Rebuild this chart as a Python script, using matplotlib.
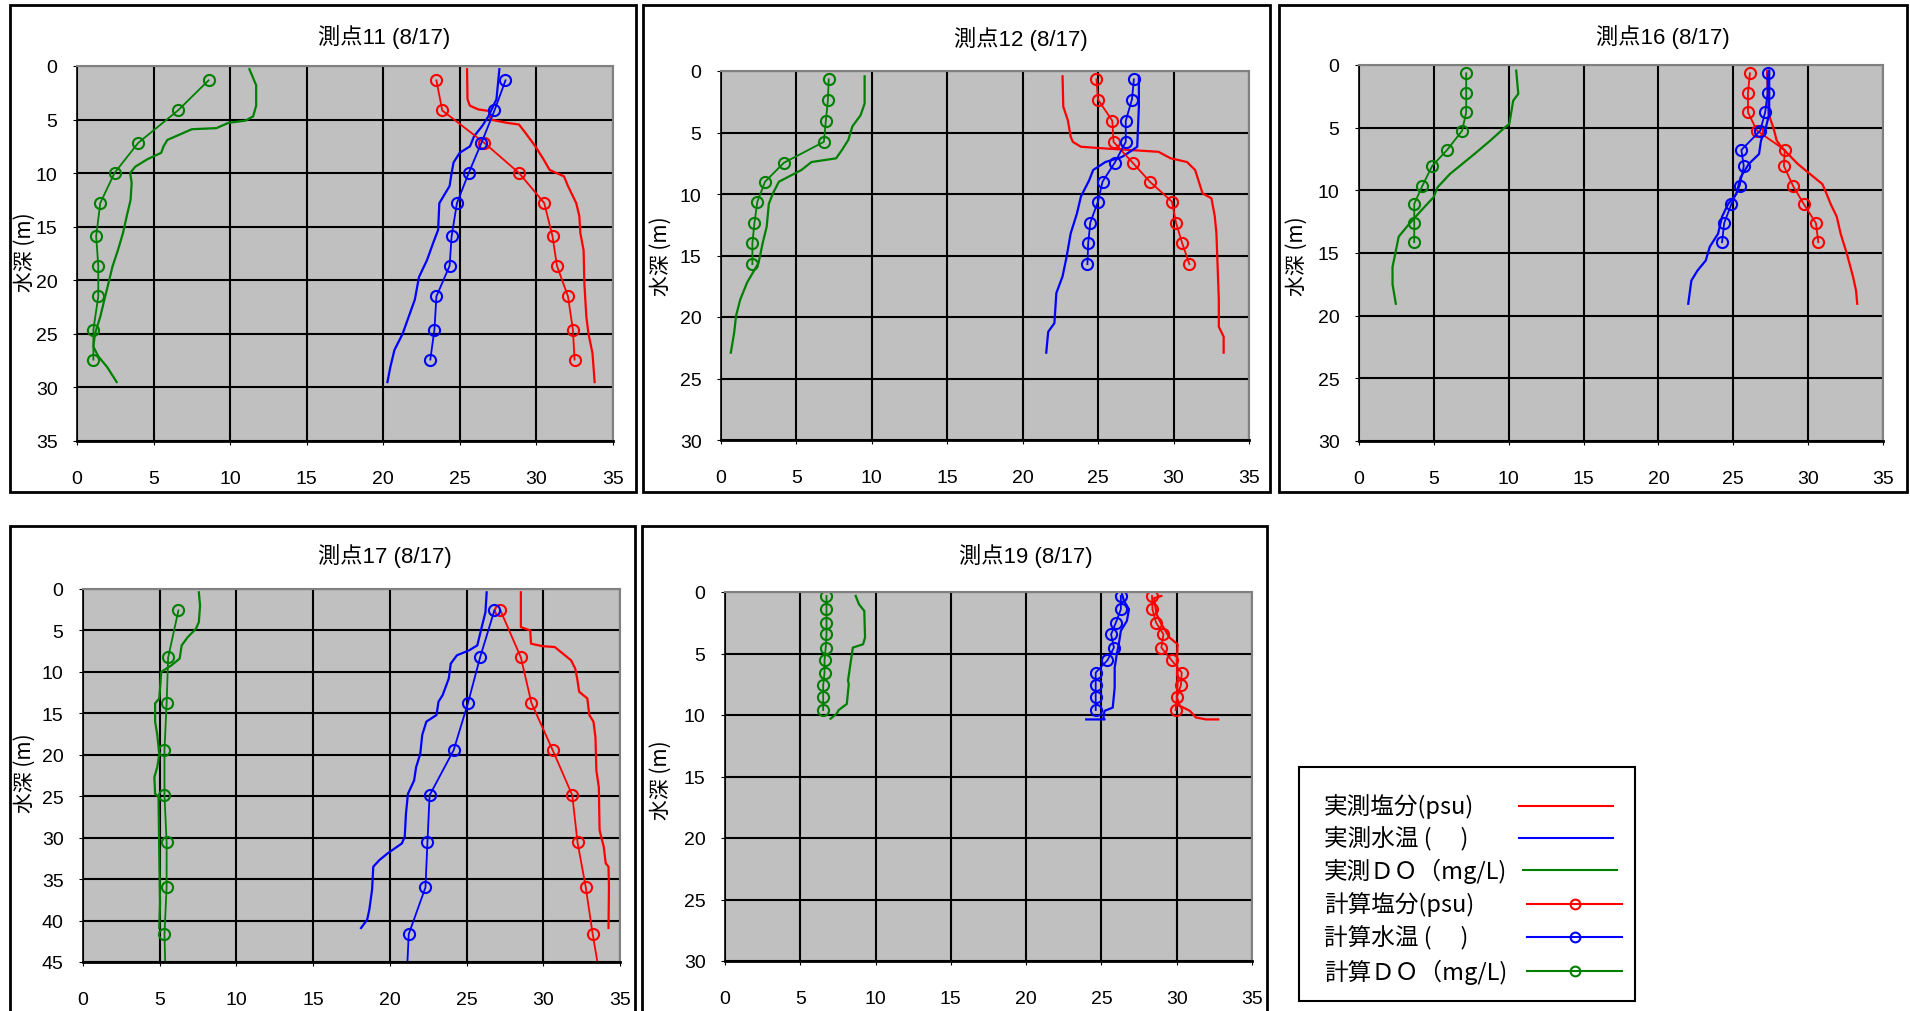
import numpy as np
import matplotlib
matplotlib.use("Agg")
import matplotlib.pyplot as plt
from matplotlib.patches import Rectangle
from matplotlib.lines import Line2D

# ---- 測点11 ----
st11_sal_obs_d = [0.3, 3.1, 3.7, 4.05, 4.2, 5.0, 5.3, 5.46, 6.2, 7.5, 8.7, 9.7, 10.3, 11.2, 12.8, 14.0, 15.6, 17.2, 20.3, 23.4, 25.0, 26.8, 29.5]
st11_sal_obs_v = [25.47, 25.5, 25.65, 26.2, 26.9, 27.0, 28.06, 28.86, 29.26, 29.93, 30.46, 30.86, 31.8, 32.06, 32.6, 32.8, 32.87, 33.08, 33.13, 33.26, 33.4, 33.66, 33.8]
st11_tmp_obs_d = [0.3, 3.1, 4.7, 5.6, 6.55, 7.5, 8.1, 9.0, 10.0, 11.2, 12.8, 15.3, 16.5, 18.1, 19.7, 21.8, 23.4, 25.0, 26.5, 28.1, 29.5]
st11_tmp_obs_v = [27.58, 27.39, 26.86, 26.46, 25.93, 25.66, 24.99, 24.59, 24.46, 24.33, 23.66, 23.58, 23.26, 22.86, 22.33, 22.06, 21.66, 21.26, 20.73, 20.46, 20.27]
st11_do_obs_d = [0.3, 1.8, 3.7, 4.7, 5.1, 5.3, 5.8, 5.9, 6.4, 6.9, 7.5, 8.1, 8.7, 9.4, 10.0, 10.9, 12.5, 14.0, 15.6, 17.2, 18.7, 20.3, 21.8, 23.4, 25.0, 26.2, 27.1, 28.1, 29.5]
st11_do_obs_v = [11.26, 11.7, 11.7, 11.5, 11.0, 9.9, 9.1, 7.5, 6.7, 5.9, 5.65, 5.5, 4.6, 3.8, 3.47, 3.57, 3.5, 3.25, 3.0, 2.67, 2.32, 2.05, 1.79, 1.52, 1.17, 1.07, 1.39, 1.97, 2.59]
st11_calc_d = [1.34, 4.15, 7.17, 9.98, 12.79, 15.9, 18.65, 21.5, 24.6, 27.4]
st11_calc_sal = [23.47, 23.85, 26.59, 28.86, 30.51, 31.05, 31.34, 32.06, 32.38, 32.49]
st11_calc_tmp = [27.98, 27.26, 26.41, 25.58, 24.81, 24.46, 24.33, 23.47, 23.34, 23.07]
st11_calc_do = [8.59, 6.59, 4.0, 2.45, 1.52, 1.25, 1.39, 1.39, 1.07, 1.07]

# ---- 測点12 ----
st12_sal_obs_d = [0.43, 2.9, 4.0, 5.35, 5.76, 6.16, 6.3, 6.4, 6.57, 7.1, 7.4, 8.05, 9.95, 10.35, 11.8, 13.2, 15.9, 18.6, 20.8, 21.6, 22.9]
st12_sal_obs_v = [22.64, 22.69, 22.99, 23.18, 23.32, 23.86, 25.48, 26.83, 29.0, 29.81, 30.89, 31.43, 31.92, 32.51, 32.73, 32.84, 32.92, 33.0, 33.0, 33.32, 33.32]
st12_tmp_obs_d = [0.43, 2.9, 6.16, 6.57, 7.0, 7.4, 8.05, 8.9, 10.2, 11.6, 13.2, 15.1, 16.7, 18.05, 20.5, 21.2, 22.9]
st12_tmp_obs_v = [27.7, 27.7, 27.59, 27.1, 26.56, 25.48, 24.67, 24.4, 23.86, 23.59, 23.18, 22.91, 22.64, 22.23, 22.1, 21.69, 21.56]
st12_do_obs_d = [0.43, 2.65, 3.6, 4.5, 5.6, 6.4, 7.1, 7.4, 8.05, 9.0, 9.95, 10.8, 12.65, 14.0, 15.6, 17.2, 18.6, 19.9, 21.3, 22.9]
st12_do_obs_v = [9.52, 9.52, 9.25, 8.71, 8.44, 8.03, 7.63, 6.0, 5.33, 3.84, 3.44, 3.17, 3.03, 2.76, 2.49, 1.73, 1.27, 1.0, 0.87, 0.65]
st12_calc_d = [0.68, 2.32, 4.05, 5.76, 7.46, 9.0, 10.62, 12.32, 14.0, 15.7]
st12_calc_sal = [24.89, 24.99, 25.94, 26.02, 27.29, 28.43, 29.89, 30.16, 30.57, 31.05]
st12_calc_tmp = [27.37, 27.24, 26.83, 26.83, 26.1, 25.29, 24.99, 24.48, 24.34, 24.29]
st12_calc_do = [7.14, 7.09, 6.95, 6.82, 4.17, 2.92, 2.41, 2.22, 2.08, 2.08]

# ---- 測点16 ----
st16_sal_obs_d = [0.45, 3.9, 4.97, 6.03, 6.56, 7.9, 8.7, 9.5, 10.28, 11.08, 12.1, 13.5, 15.07, 16.9, 18.0, 19.05]
st16_sal_obs_v = [27.26, 27.35, 27.67, 27.9, 28.22, 29.31, 30.13, 30.95, 31.23, 31.5, 31.91, 32.18, 32.59, 33.0, 33.2, 33.28]
st16_tmp_obs_d = [0.45, 3.9, 4.97, 6.03, 7.1, 7.9, 8.96, 10.28, 11.08, 12.1, 13.47, 14.5, 15.6, 16.4, 17.2, 19.05]
st16_tmp_obs_v = [27.4, 27.4, 27.18, 26.85, 26.72, 26.03, 25.49, 25.21, 24.66, 24.25, 23.98, 23.43, 23.16, 22.61, 22.2, 21.99]
st16_do_obs_d = [0.45, 2.3, 2.84, 4.7, 5.1, 6.0, 7.1, 7.9, 8.7, 9.75, 10.55, 11.6, 12.7, 13.7, 15.3, 16.1, 17.5, 19.05]
st16_do_obs_v = [10.5, 10.64, 10.3, 10.04, 9.63, 8.8, 7.71, 6.89, 6.07, 5.25, 4.98, 4.16, 3.34, 2.65, 2.38, 2.24, 2.24, 2.46]
st16_calc_d = [0.66, 2.23, 3.77, 5.24, 6.78, 8.05, 9.62, 11.08, 12.62, 14.14]
st16_calc_sal = [26.11, 25.98, 25.98, 26.58, 28.44, 28.38, 28.98, 29.7, 30.52, 30.68]
st16_calc_tmp = [27.29, 27.29, 27.13, 26.8, 25.54, 25.7, 25.43, 24.88, 24.39, 24.25]
st16_calc_do = [7.16, 7.16, 7.16, 6.89, 5.88, 4.89, 4.24, 3.69, 3.69, 3.69]

# ---- 測点17 ----
st17_sal_obs_d = [0.4, 4.6, 5.0, 6.6, 6.9, 7.0, 7.8, 8.6, 9.6, 10.8, 12.4, 13.2, 15.2, 16.0, 17.9, 21.9, 23.9, 29.1, 31.1, 33.1, 33.5, 35.9, 40.9]
st17_sal_obs_v = [28.54, 28.54, 29.15, 29.2, 29.95, 30.75, 31.28, 31.81, 32.08, 32.21, 32.34, 32.87, 33.0, 33.27, 33.4, 33.46, 33.62, 33.67, 33.94, 34.07, 34.25, 34.28, 34.25]
st17_tmp_obs_d = [0.4, 2.8, 4.8, 6.8, 7.4, 8.0, 9.0, 10.8, 12.8, 13.6, 15.2, 16.0, 17.6, 19.9, 21.5, 23.1, 24.7, 27.1, 29.9, 30.7, 31.9, 32.7, 33.5, 36.3, 38.7, 39.9, 40.9]
st17_tmp_obs_v = [26.31, 26.23, 25.96, 25.7, 25.17, 24.37, 23.97, 23.84, 23.44, 23.17, 23.04, 22.38, 22.11, 21.98, 21.71, 21.58, 21.18, 21.05, 20.97, 20.78, 19.85, 19.32, 18.92, 18.84, 18.66, 18.52, 18.12]
st17_do_obs_d = [0.4, 2.0, 4.0, 4.8, 5.8, 6.8, 8.4, 9.2, 10.0, 13.2, 13.8, 16.0, 17.6, 19.9, 21.5, 22.7, 24.7, 25.1, 31.9, 37.9, 40.9]
st17_do_obs_v = [7.55, 7.63, 7.55, 7.36, 6.83, 6.43, 6.3, 5.77, 5.1, 4.97, 4.7, 4.7, 4.84, 4.97, 4.84, 4.65, 4.7, 4.92, 4.97, 5.02, 4.97]
st17_calc_d = [2.59, 8.26, 13.76, 19.43, 24.89, 30.55, 36.0, 41.64, 46.0]
st17_calc_sal = [27.21, 28.54, 29.23, 30.61, 31.89, 32.23, 32.77, 33.22, 33.62]
st17_calc_tmp = [26.81, 25.88, 25.09, 24.16, 22.59, 22.45, 22.32, 21.23, 21.12]
st17_calc_do = [6.22, 5.55, 5.45, 5.31, 5.31, 5.45, 5.45, 5.31, 5.37]

# ---- 測点19 ----
st19_sal_obs_d = [0.32, 0.5, 1.8, 2.6, 3.7, 4.25, 5.6, 6.95, 8.57, 9.25, 9.66, 10.2, 10.36, 10.36]
st19_sal_obs_v = [28.98, 28.5, 28.66, 28.98, 29.52, 30.06, 30.01, 30.06, 30.01, 30.2, 30.87, 31.27, 31.95, 32.76]
st19_tmp_obs_d = [0.19, 0.73, 1.4, 2.35, 3.16, 4.25, 5.06, 6.14, 7.76, 9.4, 9.66, 10.2, 10.36, 10.36]
st19_tmp_obs_v = [26.37, 26.5, 26.83, 26.69, 26.29, 26.15, 26.02, 25.88, 25.88, 25.75, 25.21, 25.13, 25.21, 23.99]
st19_do_obs_d = [0.32, 1.0, 1.54, 3.7, 4.25, 4.52, 5.6, 7.2, 7.5, 9.1, 9.6, 9.9, 10.3]
st19_do_obs_v = [8.68, 8.9, 9.25, 9.3, 9.17, 8.49, 8.36, 8.17, 8.22, 8.09, 7.55, 7.41, 7.01]
st19_calc_d = [0.32, 1.41, 2.49, 3.44, 4.52, 5.55, 6.55, 7.57, 8.57, 9.6]
st19_calc_sal = [28.36, 28.39, 28.63, 29.12, 28.98, 29.66, 30.33, 30.28, 30.01, 29.93]
st19_calc_tmp = [26.29, 26.29, 25.96, 25.64, 25.83, 25.4, 24.62, 24.62, 24.62, 24.62]
st19_calc_do = [6.74, 6.74, 6.74, 6.74, 6.69, 6.61, 6.61, 6.52, 6.52, 6.52]

titles = ["測点11 (8/17)", "測点12 (8/17)", "測点16 (8/17)", "測点17 (8/17)", "測点19 (8/17)"]
depth_max = [35, 30, 30, 45, 30]
legend_labels = ["実測塩分(psu)", "実測水温 (　 )", "実測ＤＯ（mg/L)",
                 "計算塩分(psu)", "計算水温 (　 )", "計算ＤＯ（mg/L)"]

W, H = 1910, 1012
NUM_FONT = ['Liberation Sans', 'Noto Sans CJK JP']
CJK_FONT = ['Noto Sans CJK JP', 'DejaVu Sans']
RED, BLUE, GREEN = '#FF0000', '#0000FF', '#008000'


def fig_rect(x0, y0, x1, y1):
	return [x0 / W, 1 - y1 / H, (x1 - x0) / W, (y1 - y0) / H]


def draw_station(fig, box, axrect, title, title_xy, ylab_xy, ymax, obs, calc):
	# outer frame of each chart
	bx = fig_rect(*box)
	fig.add_artist(Rectangle((bx[0], bx[1]), bx[2], bx[3], transform=fig.transFigure,
				fill=False, edgecolor='black', linewidth=2))

	ax = fig.add_axes(fig_rect(*axrect))
	ax.set_facecolor('#C0C0C0')
	ax.set_xlim(0, 35)
	ax.set_ylim(ymax, 0)
	ax.set_xticks(np.arange(0, 36, 5))
	ax.set_yticks(np.arange(0, ymax + 1, 5))
	ax.grid(True, color='black', linewidth=1.5)
	ax.set_axisbelow(True)
	for s in ['top', 'right']:
		ax.spines[s].set_color('#808080')
		ax.spines[s].set_linewidth(1.5)
	ax.spines['left'].set_color('black')
	ax.spines['left'].set_linewidth(1.2)
	ax.spines['bottom'].set_color('black')
	ax.spines['bottom'].set_linewidth(2)
	ax.tick_params(axis='x', length=3, pad=18, labelsize=14)
	ax.tick_params(axis='y', length=3, pad=11, labelsize=14)
	for lab in ax.get_xticklabels() + ax.get_yticklabels():
		lab.set_family(NUM_FONT)

	cols = [RED, BLUE, GREEN]
	for (d, v), c in zip(obs, cols):
		ax.plot(v, d, color=c, linewidth=1.6)
	d = calc[0]
	for v, c in zip(calc[1:], cols):
		ax.plot(v, d, color=c, linewidth=1.3, marker='o', markersize=8,
			markerfacecolor='none', markeredgecolor=c, markeredgewidth=1.5)

	fig.text(title_xy[0] / W, 1 - title_xy[1] / H, title, ha='center', va='center',
		fontsize=16, family=NUM_FONT)
	fig.text(ylab_xy[0] / W, 1 - ylab_xy[1] / H, "水深 (m)", ha='center', va='center',
		rotation=90, fontsize=15, family=CJK_FONT)
	return ax


def draw_legend(fig):
	bx = fig_rect(1299, 768, 1635, 1002)
	fig.add_artist(Rectangle((bx[0], bx[1]), bx[2], bx[3], transform=fig.transFigure,
				fill=False, edgecolor='black', linewidth=1.5))
	rows = [807, 839, 871, 905, 938, 972]
	cols = [RED, BLUE, GREEN, RED, BLUE, GREEN]
	for i, (lab, c, py) in enumerate(zip(legend_labels, cols, rows)):
		y = 1 - py / H
		fig.text(1324 / W, y, lab, ha='left', va='center', fontsize=17, family=CJK_FONT)
		if i < 3:
			x0, x1 = (1519, 1613) if i < 2 else (1523, 1617)
			fig.add_artist(Line2D([x0 / W, x1 / W], [y, y], transform=fig.transFigure,
					color=c, linewidth=1.5))
		else:
			fig.add_artist(Line2D([1527 / W, 1622 / W], [y, y], transform=fig.transFigure,
					color=c, linewidth=1.5))
			fig.add_artist(Line2D([1575 / W], [y], transform=fig.transFigure, color=c,
					marker='o', markersize=7, markerfacecolor='none', markeredgewidth=1.5))


def main():
	fig = plt.figure(figsize=(W / 100, H / 100), dpi=100)
	fig.patch.set_facecolor('white')

	draw_station(fig, (10, 6, 636, 493), (77, 67, 613, 442), titles[0], (384, 37), (25, 252), depth_max[0],
		[(st11_sal_obs_d, st11_sal_obs_v), (st11_tmp_obs_d, st11_tmp_obs_v), (st11_do_obs_d, st11_do_obs_v)],
		[st11_calc_d, st11_calc_sal, st11_calc_tmp, st11_calc_do])
	draw_station(fig, (643, 6, 1270, 493), (721, 72, 1249, 441), titles[1], (1021, 39), (661, 256), depth_max[1],
		[(st12_sal_obs_d, st12_sal_obs_v), (st12_tmp_obs_d, st12_tmp_obs_v), (st12_do_obs_d, st12_do_obs_v)],
		[st12_calc_d, st12_calc_sal, st12_calc_tmp, st12_calc_do])
	draw_station(fig, (1279, 6, 1907, 493), (1359, 66, 1883, 442), titles[2], (1663, 37), (1297, 256), depth_max[2],
		[(st16_sal_obs_d, st16_sal_obs_v), (st16_tmp_obs_d, st16_tmp_obs_v), (st16_do_obs_d, st16_do_obs_v)],
		[st16_calc_d, st16_calc_sal, st16_calc_tmp, st16_calc_do])
	draw_station(fig, (10, 527, 635, 1020), (83, 590, 620, 963), titles[3], (385, 556), (25, 773), depth_max[3],
		[(st17_sal_obs_d, st17_sal_obs_v), (st17_tmp_obs_d, st17_tmp_obs_v), (st17_do_obs_d, st17_do_obs_v)],
		[st17_calc_d, st17_calc_sal, st17_calc_tmp, st17_calc_do])
	draw_station(fig, (642, 527, 1267, 1020), (725, 593, 1252, 962), titles[4], (1026, 556), (661, 780), depth_max[4],
		[(st19_sal_obs_d, st19_sal_obs_v), (st19_tmp_obs_d, st19_tmp_obs_v), (st19_do_obs_d, st19_do_obs_v)],
		[st19_calc_d, st19_calc_sal, st19_calc_tmp, st19_calc_do])

	draw_legend(fig)

	plt.savefig("out.png", dpi=100)


if __name__ == '__main__':
	main()
